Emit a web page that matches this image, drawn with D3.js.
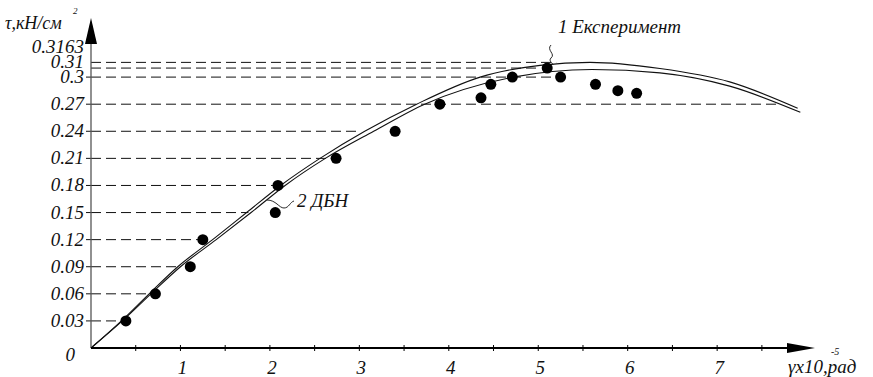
<!DOCTYPE html>
<html>
<head>
<meta charset="utf-8">
<script src="https://cdn.jsdelivr.net/npm/d3@7"></script>
<style>
  body { margin: 0; background: #fff; }
  svg { display: block; }
  .guide { stroke: #111; stroke-width: 1; stroke-dasharray: 10 5; fill: none; }
  .curve { stroke: #111; stroke-width: 1.1; fill: none; }
  .lead { stroke: #111; stroke-width: 0.9; fill: none; }
</style>
</head>
<body>
<svg id="chart" width="873" height="377"></svg>
<script>
// experimental points (gamma x10^-5 rad, tau kN/cm2)
const EXP_GAMMA = [0.39, 0.72, 1.11, 1.25, 2.06, 2.09, 2.74, 3.40, 3.90, 4.36, 4.47, 4.71, 5.10, 5.25, 5.64, 5.89, 6.10];
const EXP_TAU = [0.03, 0.06, 0.09, 0.12, 0.15, 0.18, 0.21, 0.24, 0.27, 0.277, 0.292, 0.30, 0.31, 0.30, 0.292, 0.285, 0.282];

// curve 1 - experiment
const CURVE1_GAMMA = [0, 0.34, 0.65, 0.97, 1.36, 1.74, 2.12, 2.56, 3.06, 3.64, 4.35, 5.02, 5.58, 6.36, 7.14, 7.90];
const CURVE1_TAU = [0, 0.03, 0.06, 0.09, 0.12, 0.15, 0.18, 0.21, 0.24, 0.27, 0.30, 0.313, 0.3163, 0.3095, 0.2947, 0.2655];

// curve 2 - DBN
const CURVE2_GAMMA = [0, 0.35, 0.67, 1.00, 1.40, 1.79, 2.17, 2.62, 3.16, 3.73, 4.72, 5.60, 6.36, 7.14, 7.93];
const CURVE2_TAU = [0, 0.03, 0.06, 0.09, 0.12, 0.15, 0.18, 0.21, 0.24, 0.27, 0.30, 0.3085, 0.3047, 0.290, 0.261];

// horizontal guide lines: level and where the dashes stop (gamma)
const Y_TICKS = [0.03, 0.06, 0.09, 0.12, 0.15, 0.18, 0.21, 0.24, 0.27, 0.3, 0.31, 0.3163];
const Y_LABELS = ["0.03", "0.06", "0.09", "0.12", "0.15", "0.18", "0.21", "0.24", "0.27", "0.3", "0.31", "0.3163"];
const GUIDE_END = [0.34, 0.66, 0.98, 1.22, 1.76, 2.06, 2.67, 3.0, 7.70, 5.15, 5.0, 5.2];

const X_MINOR = [0.5, 1, 1.5, 2, 2.5, 3, 3.5, 4, 4.5, 5, 5.5, 6, 6.5, 7, 7.5];
const X_LABELS = [1, 2, 3, 4, 5, 6, 7];

const FONT = "'Liberation Serif', 'DejaVu Serif', 'Times New Roman', serif";

const svg = d3.select("#chart");
const x0 = 91, y0 = 348;
const x = d3.scaleLinear().domain([0, 8]).range([x0, x0 + 8 * 89.45]);
const y = d3.scaleLinear().domain([0, 0.3]).range([y0, y0 - 0.3 * 903]);

function label(sel) {
  return sel.attr("font-family", FONT).attr("font-style", "italic").attr("fill", "#111");
}

// guides
svg.append("g").selectAll("line")
  .data(Y_TICKS)
  .join("line")
  .attr("class", "guide")
  .attr("x1", x0)
  .attr("x2", (d, i) => x(GUIDE_END[i]))
  .attr("y1", d => y(d))
  .attr("y2", d => y(d));

// y tick marks
svg.append("g").selectAll("line")
  .data(Y_TICKS.slice(0, 10))
  .join("line")
  .attr("x1", x0 - 5).attr("x2", x0)
  .attr("y1", d => y(d)).attr("y2", d => y(d))
  .attr("stroke", "#111");

// y labels (the top three are pushed apart)
const labelShift = { "0.31": -6.5, "0.3163": -15.5 };
label(svg.append("g").selectAll("text")
  .data(Y_TICKS)
  .join("text"))
  .attr("x", 84)
  .attr("y", (d, i) => y(d) + 6 + (labelShift[Y_LABELS[i]] || 0))
  .attr("text-anchor", "end")
  .attr("font-size", 19)
  .text((d, i) => Y_LABELS[i]);

label(svg.append("text")).attr("x", 75).attr("y", 361).attr("text-anchor", "end").attr("font-size", 19).text("0");

// curves
const line = d3.line().x(d => x(d[0])).y(d => y(d[1])).curve(d3.curveMonotoneX);
svg.append("path").attr("class", "curve").attr("d", line(d3.zip(CURVE1_GAMMA, CURVE1_TAU)));
svg.append("path").attr("class", "curve").attr("d", line(d3.zip(CURVE2_GAMMA, CURVE2_TAU)));

// experimental points
svg.append("g").selectAll("circle")
  .data(d3.zip(EXP_GAMMA, EXP_TAU))
  .join("circle")
  .attr("cx", d => x(d[0]))
  .attr("cy", d => y(d[1]))
  .attr("r", 5.5)
  .attr("fill", "#000");

// axes
svg.append("line").attr("x1", x0).attr("x2", x0).attr("y1", y0).attr("y2", 40)
  .attr("stroke", "#555").attr("stroke-width", 1.3);
svg.append("path").attr("d", `M${x0},18 L${x0 - 6},44 L${x0 + 6},44 Z`).attr("fill", "#000");

svg.append("line").attr("x1", x0).attr("x2", 790).attr("y1", y0).attr("y2", y0)
  .attr("stroke", "#000").attr("stroke-width", 2);
svg.append("path").attr("d", `M815,${y0} L787,${y0 - 5} L787,${y0 + 5} Z`).attr("fill", "#000");

svg.append("g").selectAll("line")
  .data(X_MINOR)
  .join("line")
  .attr("x1", d => x(d)).attr("x2", d => x(d))
  .attr("y1", y0 - 3).attr("y2", y0 + 3)
  .attr("stroke", "#000");

label(svg.append("g").selectAll("text")
  .data(X_LABELS)
  .join("text"))
  .attr("x", d => x(d) + 2)
  .attr("y", 374)
  .attr("text-anchor", "middle")
  .attr("font-size", 19)
  .text(d => d);

// axis titles
label(svg.append("text")).attr("x", 5).attr("y", 29).attr("font-size", 18).text("τ,кН/см");
label(svg.append("text")).attr("x", 73).attr("y", 14).attr("font-size", 9).text("2");

label(svg.append("text")).attr("x", 788).attr("y", 373).attr("font-size", 19).text("γx10,рад");
label(svg.append("text")).attr("x", 831).attr("y", 355).attr("font-size", 10).text("-5");

// annotations
label(svg.append("text")).attr("x", 558).attr("y", 33).attr("font-size", 19).text("1 Експеримент");
svg.append("path").attr("class", "lead")
  .attr("d", "M551,45 C546,50 556,54 551,58 C548,61 553,63 553,65");
label(svg.append("text")).attr("x", 297).attr("y", 207).attr("font-size", 19).text("2 ДБН");
svg.append("path").attr("class", "lead")
  .attr("d", "M294,201 C290,202 289,208 284,208 C279,208 276,200 267,200");
</script>
</body>
</html>
